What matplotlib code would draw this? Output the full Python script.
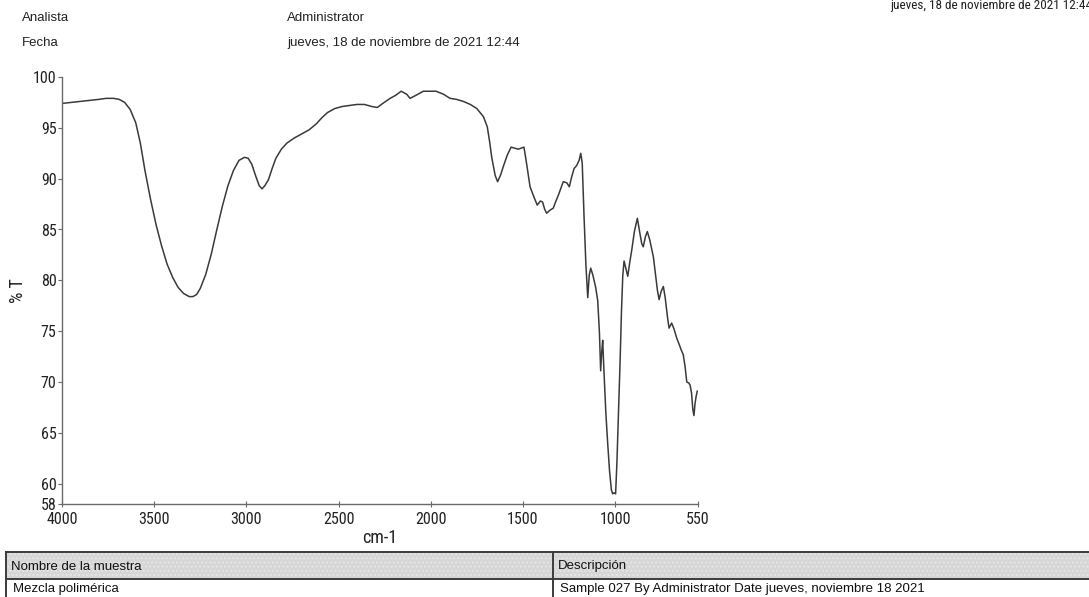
import matplotlib
matplotlib.use("Agg")
import matplotlib.pyplot as plt
import matplotlib.font_manager as fm
from matplotlib.patches import Rectangle

# FTIR spectrum: wavenumber (cm-1) and transmittance (%T)
wavenumber = [
    4000, 3950, 3900, 3850, 3800, 3760, 3720, 3690, 3660, 3630, 3600, 3575,
    3550, 3520, 3490, 3460, 3430, 3400, 3370, 3340, 3310, 3290, 3270, 3250,
    3220, 3190, 3160, 3130, 3100, 3070, 3040, 3010, 2990, 2970, 2950, 2930,
    2915, 2900, 2880, 2860, 2840, 2810, 2780, 2740, 2700, 2660, 2620, 2590,
    2560, 2520, 2480, 2440, 2400, 2360, 2320, 2290, 2260, 2220, 2190, 2160,
    2130, 2112, 2080, 2040, 2000, 1971, 1930, 1895, 1860, 1823, 1785, 1750,
    1714, 1693, 1680, 1669, 1650, 1637, 1620, 1606, 1585, 1564, 1545, 1525,
    1510, 1494, 1480, 1461, 1440, 1422, 1405, 1393, 1382, 1371, 1353, 1335,
    1325, 1307, 1281, 1262, 1248, 1235, 1222, 1208, 1195, 1186, 1178, 1168,
    1158, 1148, 1140, 1132, 1120, 1105, 1094, 1085, 1078, 1072, 1067, 1060,
    1050, 1040, 1030, 1020, 1013, 1005, 997, 990, 982, 973, 965, 958, 951,
    943, 931, 920, 910, 895, 879, 865, 855, 847, 835, 825, 812, 800, 792,
    780, 770, 761, 750, 738, 728, 715, 707, 693, 680, 665, 650, 640, 630,
    620, 611, 600, 593, 585, 578, 572, 566, 560, 554,
]
transmittance = [
    97.4, 97.5, 97.6, 97.7, 97.8, 97.9, 97.9, 97.8, 97.5, 96.8, 95.5, 93.5,
    90.8, 88.0, 85.5, 83.4, 81.6, 80.3, 79.3, 78.7, 78.4, 78.4, 78.6, 79.2,
    80.6, 82.6, 85.0, 87.3, 89.3, 90.8, 91.8, 92.1, 92.0, 91.4, 90.3, 89.3,
    89.0, 89.3, 89.9, 91.0, 92.0, 92.9, 93.5, 94.0, 94.4, 94.8, 95.4, 96.0,
    96.5, 96.9, 97.1, 97.2, 97.3, 97.3, 97.1, 97.0, 97.4, 97.9, 98.2, 98.6,
    98.3, 97.9, 98.2, 98.6, 98.6, 98.6, 98.3, 97.9, 97.8, 97.6, 97.3, 96.9,
    96.1, 95.1, 93.6, 92.1, 90.3, 89.7, 90.4, 91.2, 92.3, 93.1, 93.0, 92.9,
    93.0, 93.1, 91.5, 89.2, 88.2, 87.4, 87.8, 87.7, 87.0, 86.6, 86.9, 87.1,
    87.6, 88.4, 89.7, 89.6, 89.2, 90.2, 91.0, 91.3, 91.8, 92.5, 91.5, 86.2,
    81.5, 78.3, 80.5, 81.2, 80.5, 79.3, 78.0, 75.0, 71.1, 73.0, 74.1, 71.0,
    67.0, 64.0, 61.3, 59.4, 59.0, 59.1, 59.0, 62.0, 66.5, 71.8, 77.0, 80.5,
    81.9, 81.3, 80.4, 81.8, 82.9, 84.8, 86.1, 84.6, 83.6, 83.3, 84.3, 84.8,
    84.0, 83.0, 82.3, 80.5, 79.0, 78.1, 78.9, 79.4, 78.3, 76.3, 75.3, 75.8,
    75.2, 74.3, 73.6, 73.1, 72.7, 71.5, 70.0, 69.9, 69.7, 68.9, 67.3, 66.7,
    67.9, 68.6, 69.1,
]

x_ticks = [4000, 3500, 3000, 2500, 2000, 1500, 1000, 550]
y_ticks = [58, 60, 65, 70, 75, 80, 85, 90, 95, 100]

header_labels = ["Analista", "Fecha"]
header_values = ["Administrator", "jueves, 18 de noviembre de 2021 12:44"]
print_stamp = "jueves, 18 de noviembre de 2021 12:44"
table_headers = ["Nombre de la muestra", "Descripción"]
table_values = ["Mezcla polimérica",
                "Sample 027 By Administrator Date jueves, noviembre 18 2021"]

W, H = 1089, 597
REG = ["Liberation Sans", "DejaVu Sans"]
plt.rcParams["font.family"] = REG


def condensed_font(size):
    """Pick an installed narrow/condensed sans face, else regular Liberation Sans."""
    prefs = ["liberation sans narrow", "arial narrow", "roboto condensed",
             "open sans condensed", "dejavu sans condensed"]
    cands = []
    for f in fm.fontManager.ttflist:
        nm = f.name.lower()
        path = f.fname.lower()
        if f.weight not in (400, "normal", "regular") or f.style != "normal":
            continue
        if "narrow" in nm or "condensed" in nm or "narrow" in path or \
                "condensed" in path or str(f.stretch) in ("condensed", "semi-condensed"):
            if "mono" in nm or "serif" in nm and "sans" not in nm:
                continue
            score = len(prefs)
            for i, p in enumerate(prefs):
                if p in nm or p.replace(" ", "") in path.replace("-", ""):
                    score = i
            cands.append((score, f.fname))
    if cands:
        cands.sort()
        return fm.FontProperties(fname=cands[0][1], size=size)
    return fm.FontProperties(family=REG, size=size, stretch="condensed")


tick_fp = condensed_font(11.5)
label_fp = condensed_font(13)
stamp_fp = condensed_font(9.5)

fig = plt.figure(figsize=(W / 100, H / 100), dpi=100)
fig.patch.set_facecolor("white")

# spectrum axes (pixel box: x 62..698, y 77..504)
L, R, T, B = 62, 698, 77, 504
ax = fig.add_axes([L / W, 1 - B / H, (R - L) / W, (B - T) / H])
ax.plot(wavenumber, transmittance, color="#3a3a3a", lw=1.1)
ax.set_xlim(4000, 550)
ax.set_ylim(58, 100)
ax.set_xticks(x_ticks)
ax.set_yticks(y_ticks)
for s in ("top", "right"):
    ax.spines[s].set_visible(False)
for s in ("left", "bottom"):
    ax.spines[s].set_color("#6a6a6a")
    ax.spines[s].set_linewidth(1.0)
ax.tick_params(axis="y", direction="out", length=3, width=0.8, color="#6a6a6a",
               pad=1, labelcolor="#222222")
ax.tick_params(axis="x", direction="inout", length=5, width=0.8, color="#6a6a6a",
               pad=3, labelcolor="#222222")
for lab in ax.get_xticklabels() + ax.get_yticklabels():
    lab.set_fontproperties(tick_fp)
ax.set_ylabel("% T", fontproperties=label_fp, color="#222222", labelpad=4)
ax.set_xlabel("cm-1", fontproperties=label_fp, color="#222222", labelpad=2)

# page overlay in pixel coordinates for header and sample table
pg = fig.add_axes([0, 0, 1, 1], zorder=-1)
pg.set_xlim(0, W)
pg.set_ylim(H, 0)
pg.axis("off")

# print stamp runs off the right edge of the page
pg.text(890, 5, print_stamp, fontproperties=stamp_fp, color="#222222",
        va="center", ha="left", clip_on=False)
for i, (k, v) in enumerate(zip(header_labels, header_values)):
    yy = 18 + 25 * i
    pg.text(22, yy, k, fontsize=9.5, family=REG, color="#222222", va="center")
    pg.text(287, yy, v, fontsize=9.5, family=REG, color="#222222", va="center")

t_top, t_mid, t_bot = 552, 579, 600
x0, xdiv, x1 = 6, 553, 1095
pg.add_patch(Rectangle((x0, t_top), x1 - x0, t_mid - t_top, facecolor="#d6d6d6",
                       edgecolor="none"))
pg.add_patch(Rectangle((x0, t_top), x1 - x0, t_mid - t_top, facecolor="none",
                       edgecolor="#e6e6e6", hatch="....", lw=0))
lc = "#3c3c3c"
pg.plot([x0, x1], [t_top, t_top], color=lc, lw=1.4)
pg.plot([x0, x1], [t_mid, t_mid], color=lc, lw=1.4)
pg.plot([x0, x0], [t_top, t_bot], color=lc, lw=1.4)
pg.plot([xdiv, xdiv], [t_top, t_bot], color=lc, lw=1.4)

pg.text(x0 + 5, (t_top + t_mid) / 2 + 1, table_headers[0], fontsize=9.5,
        family=REG, color="#111111", va="center")
pg.text(xdiv + 5, (t_top + t_mid) / 2 + 1, table_headers[1], fontsize=9.5,
        family=REG, color="#111111", va="center")
pg.text(x0 + 7, 589, table_values[0], fontsize=9.5, family=REG,
        color="#111111", va="center")
pg.text(xdiv + 7, 589, table_values[1], fontsize=9.5, family=REG,
        color="#111111", va="center")

fig.savefig("out.png", dpi=100)
